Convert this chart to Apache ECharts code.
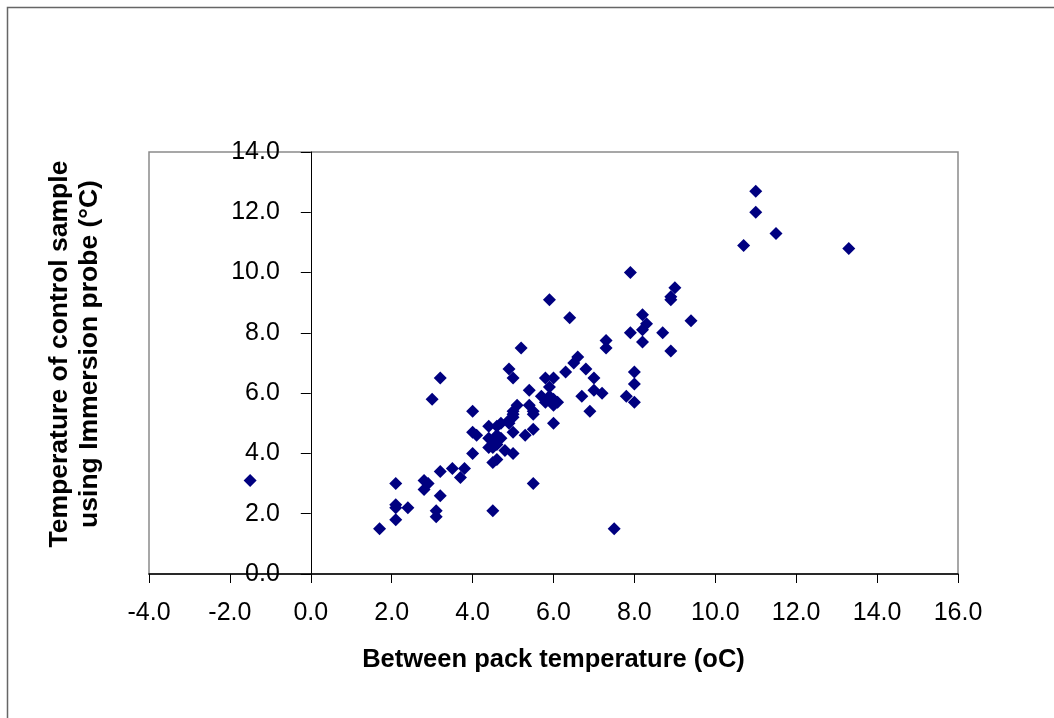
<!DOCTYPE html>
<html>
<head>
<meta charset="utf-8">
<script src="https://cdn.jsdelivr.net/npm/echarts@6/dist/echarts.min.js"></script>
<style>
html,body{margin:0;padding:0;background:#fff;}
#chart{width:1054px;height:718px;}
</style>
</head>
<body>
<div id="chart"></div>
<script>
// Between pack temperature (oC)
const packTemp = [
  -1.5, 1.7, 2.1, 2.1, 2.1, 2.1, 2.4, 2.8, 2.9, 2.8,
  3.0, 3.2, 3.2, 3.2, 3.1, 3.1, 3.5, 3.7, 3.8, 4.0,
  4.0, 4.1, 4.0, 4.4, 4.6, 4.7, 4.4, 4.6, 4.5, 4.4,
  4.5, 4.6, 4.5, 4.8, 5.0, 4.9, 5.0, 5.2, 5.4, 5.5,
  5.5, 5.3, 5.9, 5.8, 6.0, 5.9, 6.0, 5.0, 4.9, 5.0,
  5.0, 5.1, 5.0, 4.9, 5.4, 5.5, 5.5, 5.7, 5.8, 6.0,
  6.0, 5.9, 6.1, 6.3, 6.5, 6.6, 6.8, 7.0, 7.0, 7.2,
  6.7, 6.9, 6.4, 7.9, 9.0, 8.9, 8.9, 9.4, 8.2, 8.3,
  8.2, 7.9, 8.2, 8.7, 8.9, 7.3, 7.3, 8.0, 8.0, 7.8,
  8.0, 7.5, 11.0, 11.0, 11.5, 10.7, 13.3, 4.5, 4.7, 4.6
];
// Temperature of control sample using immersion probe (°C)
const probeTemp = [
  3.1, 1.5, 3.0, 2.3, 2.2, 1.8, 2.2, 3.1, 3.0, 2.8,
  5.8, 6.5, 3.4, 2.6, 2.1, 1.9, 3.5, 3.2, 3.5, 5.4,
  4.7, 4.6, 4.0, 4.9, 4.9, 5.0, 4.5, 4.6, 4.2, 4.2,
  3.7, 3.8, 2.1, 4.1, 4.0, 6.8, 6.5, 7.5, 6.1, 3.0,
  4.8, 4.6, 9.1, 6.5, 6.5, 6.2, 5.0, 4.7, 5.0, 5.2,
  5.4, 5.6, 5.3, 5.1, 5.6, 5.4, 5.3, 5.9, 5.7, 5.8,
  5.6, 5.9, 5.7, 6.7, 7.0, 7.2, 6.8, 6.5, 6.1, 6.0,
  5.9, 5.4, 8.5, 10.0, 9.5, 9.2, 9.1, 8.4, 8.6, 8.3,
  8.1, 8.0, 7.7, 8.0, 7.4, 7.75, 7.5, 6.7, 6.3, 5.9,
  5.7, 1.5, 12.7, 12.0, 11.3, 10.9, 10.8, 4.4, 4.5, 4.3
];
const xTicks = { min: -4, max: 16, step: 2 };
const yTicks = { min: 0, max: 14, step: 2 };
const xTitle = 'Between pack temperature (oC)';
const yTitle = 'Temperature of control sample\nusing Immersion probe (°C)';

const FONT = '"Liberation Sans", Arial, sans-serif';
const points = packTemp.map((x, i) => [x, probeTemp[i]]);

const GRID_LEFT = 149, GRID_WIDTH = 809;
// y axis sits at x = 0 : shift it from the grid's left edge by the scale's pixel distance
const yAxisShift = -GRID_WIDTH * (0 - xTicks.min) / (xTicks.max - xTicks.min);

const chart = echarts.init(document.getElementById('chart'), null, { renderer: 'canvas' });
chart.setOption({
  backgroundColor: '#ffffff',
  animation: false,
  graphic: [{
    type: 'rect',
    shape: { x: 7.5, y: 7.5, width: 1200, height: 900 },
    style: { fill: 'none', stroke: '#666666', lineWidth: 1.5 },
    silent: true, z: -10
  }],
  grid: {
    left: GRID_LEFT, top: 152, width: GRID_WIDTH, height: 422,
    containLabel: false, outerBoundsMode: 'none',
    show: true, borderColor: '#8a8a8a', borderWidth: 1.5, backgroundColor: 'transparent'
  },
  xAxis: {
    type: 'value',
    min: xTicks.min, max: xTicks.max, interval: xTicks.step,
    name: xTitle, nameLocation: 'middle', nameGap: 73,
    nameTextStyle: { fontFamily: FONT, fontSize: 25.5, fontWeight: 'bold', color: '#000' },
    axisLine: { show: true, onZero: false, lineStyle: { color: '#000', width: 1.5 } },
    axisTick: { show: true, length: 9, lineStyle: { color: '#000', width: 1 } },
    axisLabel: { margin: 27, fontFamily: FONT, fontSize: 25, color: '#000',
      formatter: v => v.toFixed(1) },
    splitLine: { show: false }
  },
  yAxis: {
    type: 'value',
    position: 'left',
    offset: yAxisShift,
    min: yTicks.min, max: yTicks.max, interval: yTicks.step,
    name: yTitle, nameLocation: 'middle', nameGap: 206,
    nameTextStyle: { fontFamily: FONT, fontSize: 26.5, fontWeight: 'bold', color: '#000',
      lineHeight: 30, padding: [0, 0, 0, 18] },
    axisLine: { show: true, onZero: false, lineStyle: { color: '#000', width: 1 } },
    axisTick: { show: true, length: 10, lineStyle: { color: '#000', width: 1 } },
    axisLabel: { margin: 31, fontFamily: FONT, fontSize: 25, color: '#000',
      formatter: v => v.toFixed(1) },
    splitLine: { show: false }
  },
  series: [{
    type: 'scatter',
    data: points,
    symbol: 'diamond',
    symbolSize: 13,
    itemStyle: { color: '#000080', opacity: 1 }
  }]
});
</script>
</body>
</html>
